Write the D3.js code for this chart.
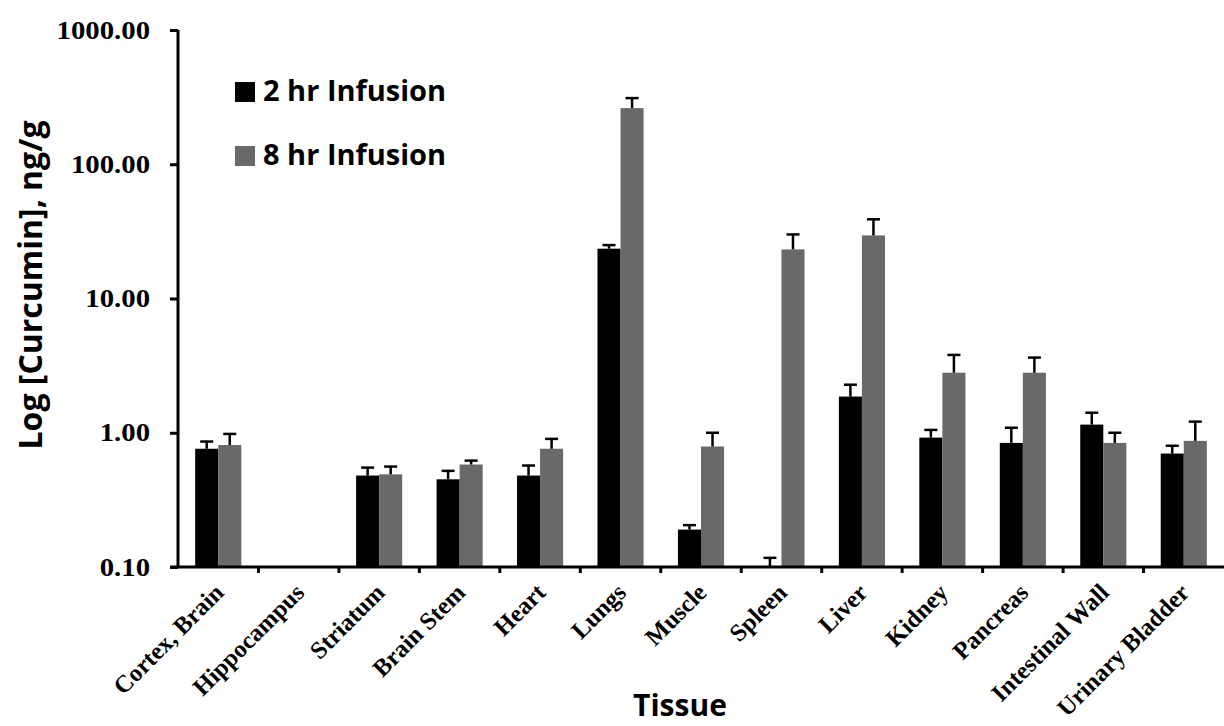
<!DOCTYPE html>
<html>
<head>
<meta charset="utf-8">
<script src="https://cdn.jsdelivr.net/npm/d3@7"></script>
<style>
	body { margin: 0; background: #fff; }
	svg { display: block; }
</style>
</head>
<body>
<div id="chart"></div>
<script>
let tissues = ['Cortex, Brain', 'Hippocampus', 'Striatum', 'Brain Stem', 'Heart', 'Lungs', 'Muscle', 'Spleen', 'Liver', 'Kidney', 'Pancreas', 'Intestinal Wall', 'Urinary Bladder'];
let seriesNames = ['2 hr Infusion', '8 hr Infusion'];
let inf2hr = [0.76, null, 0.48, 0.45, 0.48, 23.5, 0.19, 0.1, 1.86, 0.92, 0.84, 1.15, 0.70];
let inf2hrErr = [0.10, null, 0.07, 0.07, 0.09, 1.5, 0.015, 0.017, 0.42, 0.13, 0.25, 0.26, 0.10];
let inf8hr = [0.81, null, 0.49, 0.58, 0.76, 262, 0.79, 23.2, 29.5, 2.8, 2.8, 0.84, 0.87];
let inf8hrErr = [0.17, null, 0.07, 0.04, 0.14, 49, 0.21, 6.8, 9.4, 1.0, 0.83, 0.16, 0.34];
let yTicks = [0.1, 1, 10, 100, 1000];

let marg = { left: 178, right: 0, top: 30, bot: 159 };
let W = 1224, H = 726;
let colors = ['#000000', '#696969'];

const svg = d3.select('#chart').append('svg').attr('width', W).attr('height', H);

let x0 = d3.scaleBand().domain(tissues).range([marg.left, W - marg.right]).paddingInner(0.427).paddingOuter(0.2135);
let x1 = d3.scaleBand().domain(seriesNames).range([0, x0.bandwidth()]);
let y = d3.scaleLog().domain([0.1, 1000]).range([H - marg.bot, marg.top]);

let rows = tissues.map((t, i) => ({
	name: t,
	vals: [
		{ s: seriesNames[0], v: inf2hr[i], e: inf2hrErr[i], c: colors[0] },
		{ s: seriesNames[1], v: inf8hr[i], e: inf8hrErr[i], c: colors[1] }
	].filter(d => d.v != null)
}));

// bars
let grp = svg.append('g').selectAll('g').data(rows).enter().append('g')
	.attr('transform', d => 'translate(' + x0(d.name) + ',0)');

grp.selectAll('rect').data(d => d.vals).enter().append('rect')
	.attr('x', d => x1(d.s))
	.attr('y', d => y(d.v))
	.attr('width', x1.bandwidth())
	.attr('height', d => y(0.1) - y(d.v))
	.attr('fill', d => d.c);

// error bars (upper only)
let err = grp.selectAll('g.err').data(d => d.vals).enter().append('g').attr('class', 'err')
	.attr('stroke', '#000').attr('stroke-width', 2.5);
err.append('line')
	.attr('x1', d => x1(d.s) + x1.bandwidth() / 2)
	.attr('x2', d => x1(d.s) + x1.bandwidth() / 2)
	.attr('y1', d => y(d.v))
	.attr('y2', d => y(d.v + d.e));
err.append('line')
	.attr('x1', d => x1(d.s) + x1.bandwidth() / 2 - 6.5)
	.attr('x2', d => x1(d.s) + x1.bandwidth() / 2 + 6.5)
	.attr('y1', d => y(d.v + d.e))
	.attr('y2', d => y(d.v + d.e));

// y axis
const yAxis = d3.axisLeft(y).tickValues(yTicks).tickFormat(d3.format('.2f')).tickSize(8).tickPadding(20);
let yg = svg.append('g').attr('transform', 'translate(' + marg.left + ',0)').call(yAxis);
yg.select('.domain').attr('d', 'M0,' + y(1000) + 'V' + y(0.1)).attr('stroke-width', 3);
yg.selectAll('.tick line').attr('stroke-width', 3);
yg.selectAll('.tick text')
	.attr('font-family', '"Liberation Serif", "Times New Roman", serif')
	.attr('font-weight', 'bold')
	.attr('font-size', 25)
	.attr('fill', '#000')
	.each(function(){
		let t = d3.select(this);
		let xx = +t.attr('x');
		t.attr('x', null).attr('transform', 'translate(' + xx + ',0) scale(1.15,1)');
	});

// x axis
let xg = svg.append('g').attr('transform', 'translate(0,' + y(0.1) + ')');
xg.append('line').attr('x1', marg.left - 8).attr('x2', W).attr('stroke', '#000').attr('stroke-width', 3);
xg.selectAll('line.tk').data(tissues.slice(1)).enter().append('line').attr('class', 'tk')
	.attr('x1', d => x0(d) - x0.step() * x0.paddingInner() / 2)
	.attr('x2', d => x0(d) - x0.step() * x0.paddingInner() / 2)
	.attr('y1', 0).attr('y2', 6)
	.attr('stroke', '#000').attr('stroke-width', 3);
xg.selectAll('text').data(tissues).enter().append('text')
	.attr('transform', d => 'translate(' + (x0(d) + x0.bandwidth() / 2 + 7) + ',27) rotate(-45)')
	.attr('text-anchor', 'end')
	.attr('font-family', '"Liberation Serif", "Times New Roman", serif')
	.attr('font-weight', 'bold')
	.attr('font-size', 24.5)
	.text(d => d);

// axis titles
svg.append('text')
	.attr('transform', 'translate(42,' + 285 + ') rotate(-90)')
	.attr('text-anchor', 'middle')
	.attr('font-family', '"Open Sans", sans-serif')
	.attr('font-weight', 'bold')
	.attr('font-size', 32)
	.text('Log [Curcumin], ng/g');

svg.append('text')
	.attr('x', 680).attr('y', 716)
	.attr('text-anchor', 'middle')
	.attr('font-family', '"Open Sans", sans-serif')
	.attr('font-weight', 'bold')
	.attr('font-size', 30)
	.text('Tissue');

// legend
let leg = svg.append('g').selectAll('g').data(seriesNames).enter().append('g')
	.attr('transform', (d, i) => 'translate(235,' + (82 + i * 64) + ')');
leg.append('rect').attr('width', 20).attr('height', 20).attr('fill', (d, i) => colors[i]);
leg.append('text')
	.attr('x', 28).attr('y', 19)
	.attr('font-family', '"Open Sans", sans-serif')
	.attr('font-weight', 'bold')
	.attr('font-size', 29)
	.text(d => d);
</script>
</body>
</html>
